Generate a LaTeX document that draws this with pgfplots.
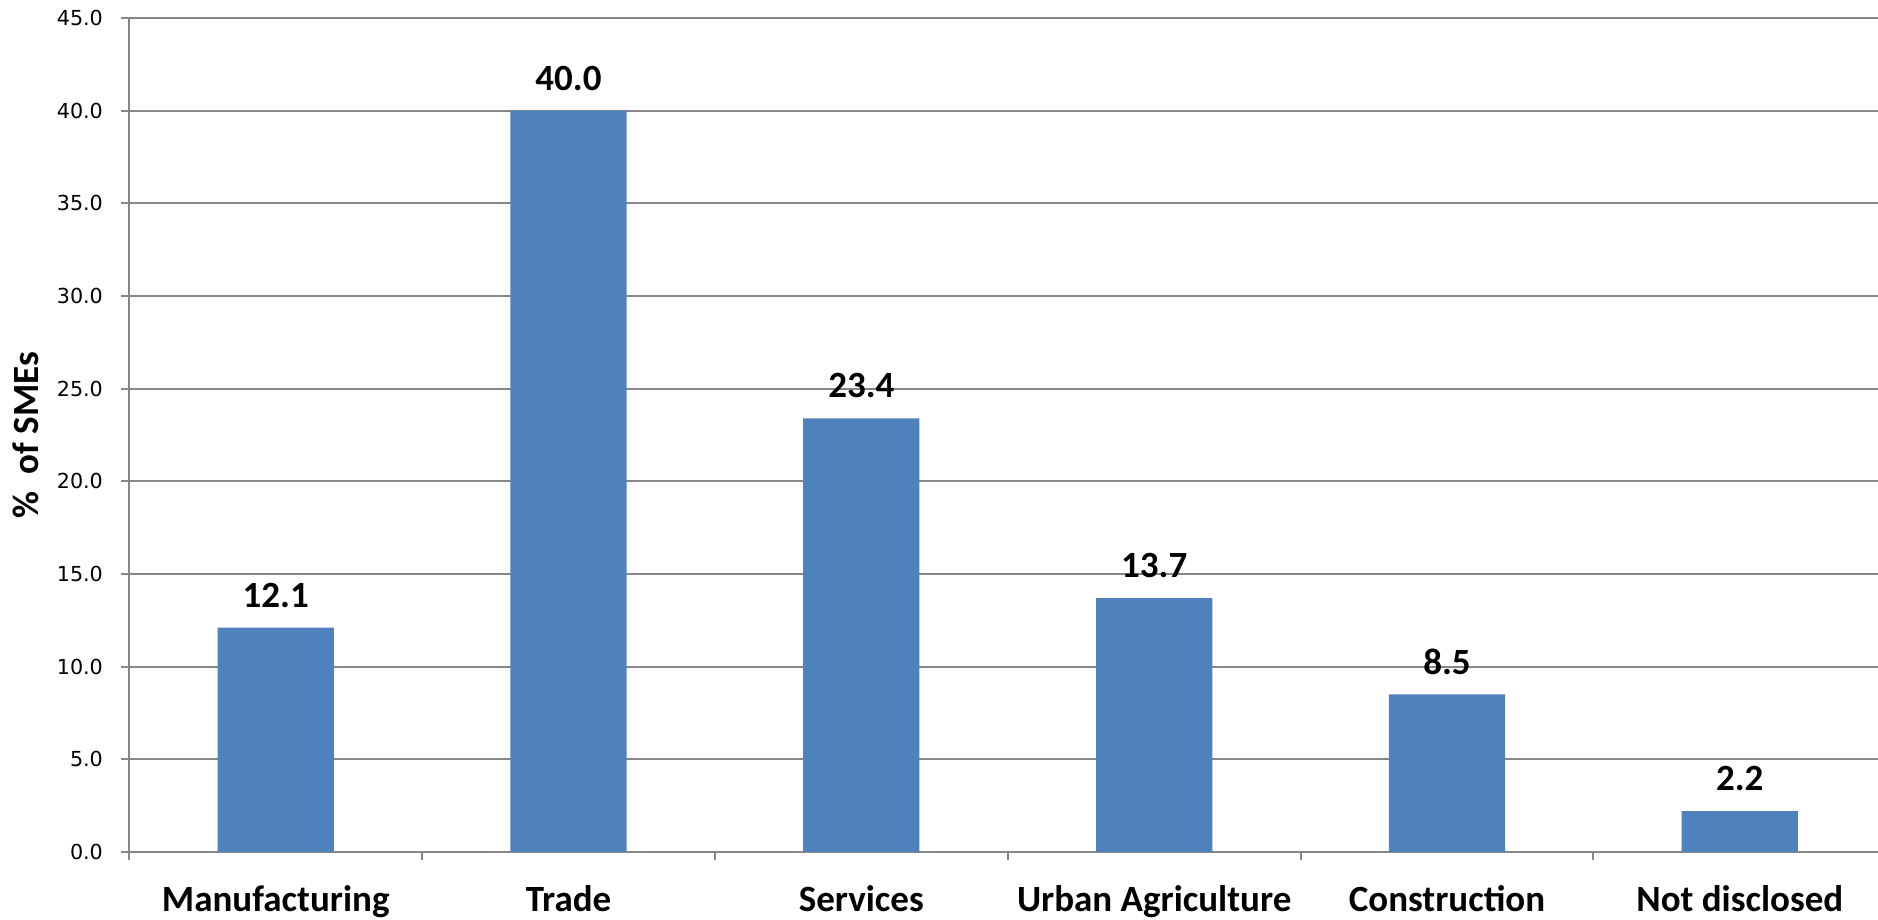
\documentclass[border=0pt]{standalone}
\usepackage{pgfplots}
\pgfplotsset{compat=1.18}
\usepackage{fontspec}
\setmainfont{Carlito}
\newfontfamily\dejavu{DejaVu Sans}
\definecolor{barblue}{RGB}{79,129,189}
\definecolor{gridgray}{RGB}{134,134,134}
\begin{document}
\begin{tikzpicture}
\useasboundingbox (-38.8pt,-20.4pt) rectangle (524.6pt,255.6pt);
\begin{axis}[
  at={(0,0)}, anchor=south west,
  scale only axis, width=524.6pt, height=250.2pt,
  xmin=-0.5, xmax=5.472, ymin=0, ymax=45,
  axis x line*=bottom, axis y line*=left,
  axis line style={draw=gridgray, line width=0.6pt, -},
  ytick={0,5,...,45},
  ymajorgrids, grid style={gridgray, line width=0.6pt},
  xtick={0,1,2,3,4,5},
  xticklabels={Manufacturing,Trade,Services,Urban Agriculture,Construction,Not disclosed},
  minor xtick={-0.5,0.5,1.5,2.5,3.5,4.5},
  tick align=outside,
  major tick length=2.4pt, minor tick length=2.4pt,
  major x tick style={draw=none},
  minor x tick style={draw=gridgray, line width=0.6pt},
  major y tick style={draw=gridgray, line width=0.6pt},
  yticklabel style={font=\dejavu\fontsize{6.2}{7}\selectfont, text=black, xshift=-2pt},
  /pgf/number format/.cd, fixed, fixed zerofill, precision=1, assume math mode=true,
  /pgfplots/.cd,
  xticklabel style={font=\bfseries\fontsize{11.1}{13}\selectfont, text=black, yshift=-4pt},
  ylabel={\%\ \ of SMEs},
  ylabel style={at={(axis description cs:-0.0591,0.5)}, anchor=center, font=\bfseries\fontsize{11.1}{13}\selectfont},
  ybar, bar width=0.397,
  nodes near coords,
  point meta=explicit symbolic,
  nodes near coords style={font=\bfseries\fontsize{11.1}{13}\selectfont, text=black, yshift=2.5pt},
]
\addplot[fill=barblue, draw=none] coordinates {
  (0,12.1) [12.1]
  (1,40.0) [40.0]
  (2,23.4) [23.4]
  (3,13.7) [13.7]
  (4,8.5) [8.5]
  (5,2.2) [2.2]
};
\end{axis}
\end{tikzpicture}
\end{document}
